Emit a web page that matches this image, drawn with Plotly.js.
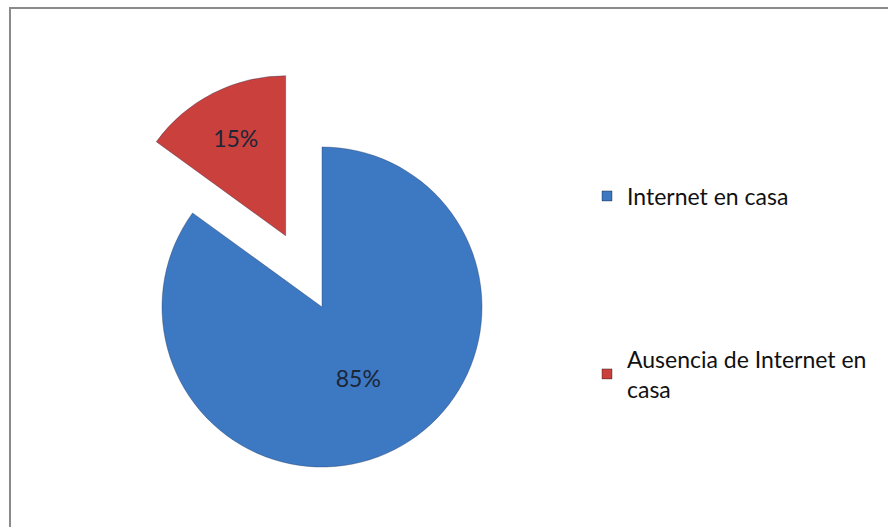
<!DOCTYPE html>
<html>
<head>
<meta charset="utf-8">
<script src="https://cdn.plot.ly/plotly-3.0.1.min.js"></script>
<style>
  html, body { margin: 0; padding: 0; background: #ffffff; overflow: hidden; }
  #wrap { width: 888px; height: 527px; overflow: hidden; position: relative; }
  #chart { width: 888px; height: 620px; }
</style>
</head>
<body>
<div id="wrap"><div id="chart"></div></div>
<script>
// ---- data ----
const categories = ["Internet en casa", "Ausencia de Internet en casa"];
const legendNames = ["Internet en casa", "Ausencia de Internet en<br>casa"];
const shares = [85, 15];
const sliceColors = ["#3d78c2", "#c9403c"];
const pulls = [0, 0.5];

const W = 888, H = 620;
const fontFam = "Lato, 'Open Sans', sans-serif";

const pieTrace = {
  type: "pie",
  labels: categories,
  values: shares,
  sort: false,
  direction: "clockwise",
  rotation: 0,
  pull: pulls,
  marker: { colors: sliceColors, line: { color: "rgba(30,50,90,0.35)", width: 1 } },
  textinfo: "percent",
  textposition: "inside",
  insidetextorientation: "horizontal",
  textfont: { family: fontFam, size: 23, color: "#1b2638" },
  hoverinfo: "label+percent",
  showlegend: false,
  domain: { x: [82 / W, 562 / W], y: [1 - 547 / H, 1 - 67 / H] }
};

const legendTraces = categories.map((c, i) => ({
  type: "scatter",
  mode: "markers",
  x: [null], y: [null],
  name: legendNames[i],
  legend: i === 0 ? "legend" : "legend2",
  marker: { symbol: "square", size: 10, color: sliceColors[i],
            line: { color: "rgba(0,0,0,0.35)", width: 1 } },
  hoverinfo: "skip"
}));

const legendFont = { family: fontFam, size: 23, color: "#111111" };

const layout = {
  width: W, height: H,
  margin: { l: 0, r: 0, t: 0, b: 0 },
  paper_bgcolor: "#ffffff",
  plot_bgcolor: "#ffffff",
  xaxis: { visible: false },
  yaxis: { visible: false },
  legend: { x: 587 / W, y: 1 - 196 / H, xanchor: "left", yanchor: "middle",
            font: legendFont, bgcolor: "rgba(0,0,0,0)" },
  legend2: { x: 587 / W, y: 1 - 374 / H, xanchor: "left", yanchor: "middle",
             font: legendFont, bgcolor: "rgba(0,0,0,0)" },
  shapes: [{
    type: "rect", xref: "paper", yref: "paper",
    x0: 10 / W, x1: 1.2, y0: -0.2, y1: 1 - 8 / H,
    line: { color: "#8a8a8a", width: 2 }, fillcolor: "rgba(0,0,0,0)"
  }]
};

Plotly.newPlot("chart", [pieTrace].concat(legendTraces), layout,
  { displayModeBar: false, staticPlot: true });
</script>
</body>
</html>
